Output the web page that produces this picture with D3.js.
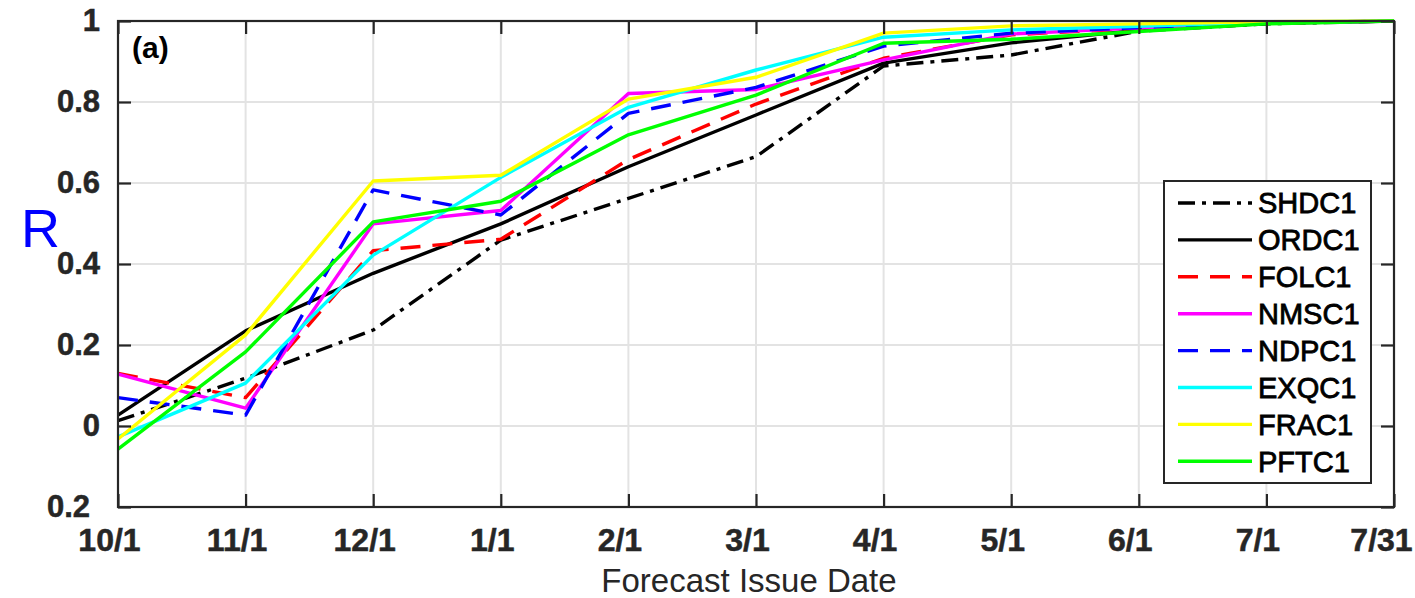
<!DOCTYPE html>
<html>
<head>
<meta charset="utf-8">
<script src="https://cdn.jsdelivr.net/npm/d3@7"></script>
<style>
  html, body { margin: 0; padding: 0; background: #fff; }
  svg { display: block; font-family: "Liberation Sans", Arial, Helvetica, sans-serif; }
</style>
</head>
<body>
<svg id="chart" width="1415" height="598"></svg>
<script>
// ---- data ----
const categories = ["10/1", "11/1", "12/1", "1/1", "2/1", "3/1", "4/1", "5/1", "6/1", "7/1", "7/31"];
const yTicks = [-0.2, 0, 0.2, 0.4, 0.6, 0.8, 1];
const yTickLabels = ["0.2", "0", "0.2", "0.4", "0.6", "0.8", "1"];
const seriesNames = ["SHDC1", "ORDC1", "FOLC1", "NMSC1", "NDPC1", "EXQC1", "FRAC1", "PFTC1"];
const SHDC1 = [0.013, 0.118, 0.237, 0.459, 0.562, 0.665, 0.889, 0.916, 0.975, 0.993, 1.0];
const ORDC1 = [0.027, 0.235, 0.377, 0.499, 0.640, 0.768, 0.896, 0.946, 0.977, 0.994, 1.0];
const FOLC1 = [0.130, 0.070, 0.433, 0.461, 0.658, 0.795, 0.908, 0.966, 0.982, 0.995, 1.0];
const NMSC1 = [0.128, 0.044, 0.499, 0.532, 0.821, 0.831, 0.904, 0.968, 0.983, 0.995, 1.0];
const NDPC1 = [0.070, 0.027, 0.583, 0.521, 0.772, 0.836, 0.938, 0.970, 0.984, 0.996, 1.0];
const EXQC1 = [-0.027, 0.106, 0.422, 0.614, 0.787, 0.879, 0.960, 0.978, 0.987, 0.997, 1.0];
const FRAC1 = [-0.032, 0.225, 0.605, 0.619, 0.807, 0.861, 0.970, 0.988, 0.993, 0.998, 1.0];
const PFTC1 = [-0.057, 0.183, 0.504, 0.555, 0.719, 0.817, 0.945, 0.955, 0.974, 0.993, 1.0];
const seriesValues = [SHDC1, ORDC1, FOLC1, NMSC1, NDPC1, EXQC1, FRAC1, PFTC1];

// ---- styles ----
const colors = ["#000000", "#000000", "#ff0000", "#ff00ff", "#0000ff", "#00ffff", "#ffff00", "#00ff00"];
const dashes = ["17,7,4,7", null, "20,12", null, "20,12", null, null, null];

const svg = d3.select("#chart");
const L = 118, R = 1394, T = 21, B = 507;
const x = d3.scaleLinear().domain([0, categories.length - 1]).range([L, R]);
const y = d3.scaleLinear().domain([-0.2, 1]).range([B, T]);
const axisColor = "#262626";

// grid
const grid = svg.append("g");
grid.selectAll("line.gx").data(d3.range(categories.length)).join("line")
  .attr("x1", d => x(d)).attr("x2", d => x(d)).attr("y1", T).attr("y2", B)
  .attr("stroke", "#e3e3e3").attr("stroke-width", 2);
grid.selectAll("line.gy").data(yTicks).join("line")
  .attr("x1", L).attr("x2", R).attr("y1", d => y(d)).attr("y2", d => y(d))
  .attr("stroke", "#e3e3e3").attr("stroke-width", 2);

// series lines
const line = d3.line().x((d, i) => x(i)).y(d => y(d));
seriesValues.forEach((vals, k) => {
  svg.append("path").datum(vals)
    .attr("d", line)
    .attr("fill", "none")
    .attr("stroke", colors[k])
    .attr("stroke-width", 3.4)
    .attr("stroke-linejoin", "round")
    .attr("stroke-dasharray", dashes[k]);
});

// axes (inward ticks)
const tickLen = 13;
const xAxisB = d3.axisBottom(x).tickValues(d3.range(categories.length)).tickSize(-tickLen).tickFormat(i => categories[i]).tickPadding(tickLen + 8);
const xAxisT = d3.axisTop(x).tickValues(d3.range(categories.length)).tickSize(-tickLen).tickFormat("");
const yAxisL = d3.axisLeft(y).tickValues(yTicks).tickSize(-tickLen).tickFormat((d, i) => yTickLabels[i]).tickPadding(tickLen + 5);
const yAxisR = d3.axisRight(y).tickValues(yTicks).tickSize(-tickLen).tickFormat("");

function styleAxis(g) {
  g.select(".domain").attr("stroke", axisColor).attr("stroke-width", 2.2);
  g.selectAll(".tick line").attr("stroke", axisColor).attr("stroke-width", 2.2);
  g.selectAll(".tick text").attr("fill", "#262626").attr("font-weight", "bold")
    .attr("stroke", "#262626").attr("stroke-width", 0.5);
}
const gb = svg.append("g").attr("transform", `translate(0,${B})`).call(xAxisB).call(styleAxis);
gb.selectAll(".tick text").attr("font-size", 32).attr("font-family", "Liberation Sans, Arial, sans-serif")
  .attr("dx", (d, i) => i === categories.length - 1 ? -13 : -9);
const gt = svg.append("g").attr("transform", `translate(0,${T})`).call(xAxisT).call(styleAxis);
const gl = svg.append("g").attr("transform", `translate(${L},0)`).call(yAxisL).call(styleAxis);
gl.selectAll(".tick text").attr("font-size", 31).attr("font-family", "Liberation Sans, Arial, sans-serif")
  .attr("dx", (d, i) => i === 0 ? -10 : 0);
const gr = svg.append("g").attr("transform", `translate(${R},0)`).call(yAxisR).call(styleAxis);
[gb, gt, gl, gr].forEach(g => g.select(".domain").attr("d", null));
// frame
svg.append("rect").attr("x", L).attr("y", T).attr("width", R - L).attr("height", B - T)
  .attr("fill", "none").attr("stroke", axisColor).attr("stroke-width", 2.2);

// labels
svg.append("text").attr("x", 749).attr("y", 592).attr("text-anchor", "middle")
  .attr("font-size", 33).attr("fill", "#262626").text("Forecast Issue Date");
svg.append("text").attr("x", 21).attr("y", 247)
  .attr("font-size", 54).attr("fill", "#0000ff").text("R");
svg.append("text").attr("x", 132).attr("y", 58)
  .attr("font-size", 30).attr("font-weight", "bold").attr("fill", "#000").text("(a)");

// legend
const lg = svg.append("g");
lg.append("rect").attr("x", 1164).attr("y", 181).attr("width", 207).attr("height", 302)
  .attr("fill", "#fff").attr("stroke", axisColor).attr("stroke-width", 2);
const rowY = i => 203 + i * 36.9;
seriesNames.forEach((name, k) => {
  lg.append("line").attr("x1", 1178).attr("x2", 1252).attr("y1", rowY(k)).attr("y2", rowY(k))
    .attr("stroke", colors[k]).attr("stroke-width", 3.4).attr("stroke-dasharray", dashes[k]);
  lg.append("text").attr("x", 1258).attr("y", rowY(k)).attr("dy", "0.36em")
    .attr("font-size", 29).attr("fill", "#000").attr("stroke", "#000").attr("stroke-width", 0.8)
    .text(name);
});
</script>
</body>
</html>
